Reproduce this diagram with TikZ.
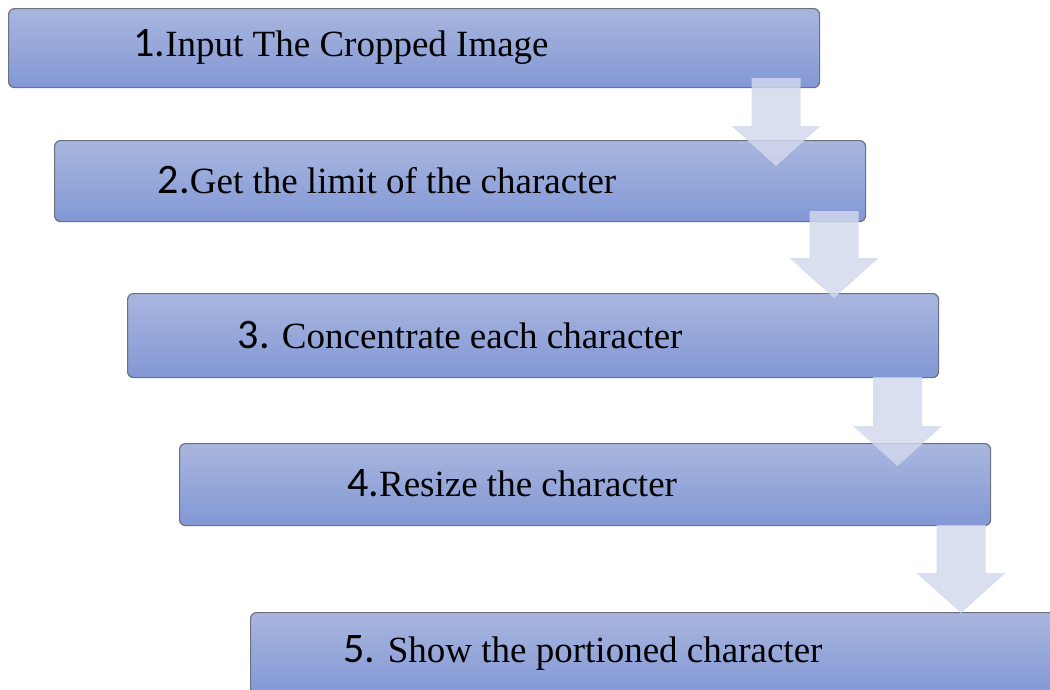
\documentclass[tikz,border=0pt]{standalone}
\usepackage{fontspec}
\setmainfont{Liberation Serif}
\newfontfamily\numfont{Carlito}
\usetikzlibrary{calc}
\definecolor{boxtop}{HTML}{A9B6DE}
\definecolor{boxbot}{HTML}{8298D5}
\definecolor{boxline}{HTML}{6C7180}
\definecolor{arrowfill}{HTML}{D3D9EC}
\newcommand{\num}[1]{{\fontsize{42}{48}\selectfont\numfont #1}}
\newcommand{\blkarrow}[4]{%
  % #1 name, #2 center x, #3 top y, #4 tip y
  \coordinate (#1top) at (#2,-#3);
  \coordinate (#1tip) at (#2,-#4);
  \fill[arrowstyle] ($(#1top)+(-24.5,0)$) -- ($(#1top)+(24.5,0)$) --
    ($(#1tip)+(24.5,40)$) -- ($(#1tip)+(44.5,40)$) -- (#1tip) --
    ($(#1tip)+(-44.5,40)$) -- ($(#1tip)+(-24.5,40)$) -- cycle;
}
\tikzset{
  stepbox/.style={draw=boxline, line width=1.2pt, rounded corners=6pt,
    top color=boxtop, bottom color=boxbot, minimum width=811pt,
    inner sep=0pt, anchor=north west},
  steptext/.style={font=\fontsize{37}{44}\selectfont, inner sep=0pt},
  arrowstyle/.style={fill=arrowfill, fill opacity=0.82}
}
\begin{document}
\begin{tikzpicture}[x=1pt,y=1pt]
\useasboundingbox (0,0) rectangle (1050,-689);
\clip (0,0) rectangle (1050,-689);
\fill[white] (0,0) rectangle (1050,-689);
\node[stepbox, minimum height=79pt] (b1) at (8,-8) {};
\node[stepbox, minimum height=81pt] (b2) at (54,-140) {};
\node[stepbox, minimum height=84pt] (b3) at (127,-293) {};
\node[stepbox, minimum height=82pt] (b4) at (179,-443) {};
\node[stepbox, minimum height=82pt] (b5) at (250,-612) {};
\node[steptext] (t1) at ($(b1.center)+(-73,1)$) {\num{1.}Input The Cropped Image};
\node[steptext] (t2) at ($(b2.center)+(-73,1)$) {\num{2.}Get the limit of the character};
\node[steptext] (t3) at ($(b3.center)+(-73,1)$) {\num{3.} Concentrate each character};
\node[steptext] (t4) at ($(b4.center)+(-73,1)$) {\num{4.}Resize the character};
\node[steptext] (t5) at ($(b5.center)+(-73,1)$) {\num{5.} Show the portioned character};
\blkarrow{a1}{776}{78}{166}
\blkarrow{a2}{834}{211}{298}
\blkarrow{a3}{897.5}{377}{466}
\blkarrow{a4}{961}{525}{613}
\end{tikzpicture}
\end{document}
